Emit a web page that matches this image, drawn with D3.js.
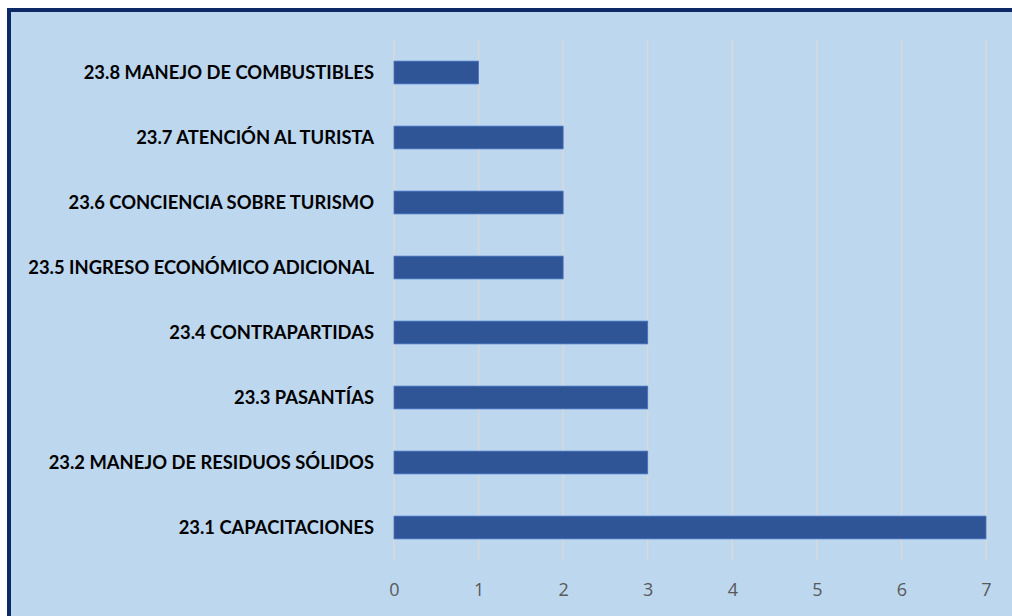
<!DOCTYPE html>
<html>
<head>
<meta charset="utf-8">
<script src="https://cdn.jsdelivr.net/npm/d3@7"></script>
<style>
  body { margin: 0; background: #fff; }
  svg { display: block; }
</style>
</head>
<body>
<svg width="1012" height="616"></svg>
<script>
// data, top to bottom as drawn
var categories = [
  "23.8 MANEJO DE COMBUSTIBLES",
  "23.7 ATENCIÓN AL TURISTA",
  "23.6 CONCIENCIA SOBRE TURISMO",
  "23.5 INGRESO ECONÓMICO ADICIONAL",
  "23.4 CONTRAPARTIDAS",
  "23.3 PASANTÍAS",
  "23.2 MANEJO DE RESIDUOS SÓLIDOS",
  "23.1 CAPACITACIONES"
];
var values = [1, 2, 2, 2, 3, 3, 3, 7];
var ticks = [0, 1, 2, 3, 4, 5, 6, 7];

var svg = d3.select("svg");

// panel background + navy border (top and left visible)
svg.append("rect").attr("x", 9).attr("y", 10).attr("width", 1012).attr("height", 616)
  .attr("fill", "#BDD7EE");
svg.append("rect").attr("x", 7).attr("y", 8).attr("width", 1010).attr("height", 4).attr("fill", "#0E2A66");
svg.append("rect").attr("x", 7).attr("y", 8).attr("width", 4).attr("height", 616).attr("fill", "#0E2A66");

var x = d3.scaleLinear().domain([0, 7]).range([394, 986]);
var y = d3.scaleBand().domain(categories).range([40, 560]).paddingInner(0.65).paddingOuter(0.325);

// gridlines
svg.append("g").selectAll("line").data(ticks).enter().append("line")
  .attr("x1", function(d){ return x(d); })
  .attr("x2", function(d){ return x(d); })
  .attr("y1", 40).attr("y2", 560)
  .attr("stroke", "#D9D9D9").attr("stroke-width", 1.5);

// bars
svg.append("g").selectAll("rect").data(values).enter().append("rect")
  .attr("x", x(0))
  .attr("y", function(d, i){ return y(categories[i]); })
  .attr("width", function(d){ return x(d) - x(0); })
  .attr("height", y.bandwidth())
  .attr("fill", "#2F5597")
  .attr("stroke", "#4472C4").attr("stroke-width", 0.8);

// category labels
var labels = svg.append("g").selectAll("text").data(categories).enter().append("text")
  .attr("x", 374)
  .attr("y", function(d){ return y(d) + y.bandwidth() / 2; })
  .attr("dy", "0.35em")
  .attr("text-anchor", "end")
  .attr("font-family", "Lato, 'Open Sans', sans-serif")
  .attr("font-weight", "bold")
  .attr("font-size", 16)
  .attr("fill", "#000")
  .text(function(d){ return d; });

// fit longest label to ~346px like the reference
var maxW = d3.max(labels.nodes(), function(n){ return n.getComputedTextLength(); });
var fs = 16 * 346 / maxW;
labels.attr("font-size", fs);

// x axis tick labels
var xAxis = d3.axisBottom(x).tickValues(ticks).tickFormat(d3.format("d")).tickSize(0).tickPadding(0);
var gx = svg.append("g").attr("transform", "translate(0,583)").call(xAxis);
gx.select(".domain").remove();
gx.selectAll("text")
  .attr("font-family", "'Open Sans', sans-serif")
  .attr("font-size", 18)
  .attr("fill", "#595959");
</script>
</body>
</html>
